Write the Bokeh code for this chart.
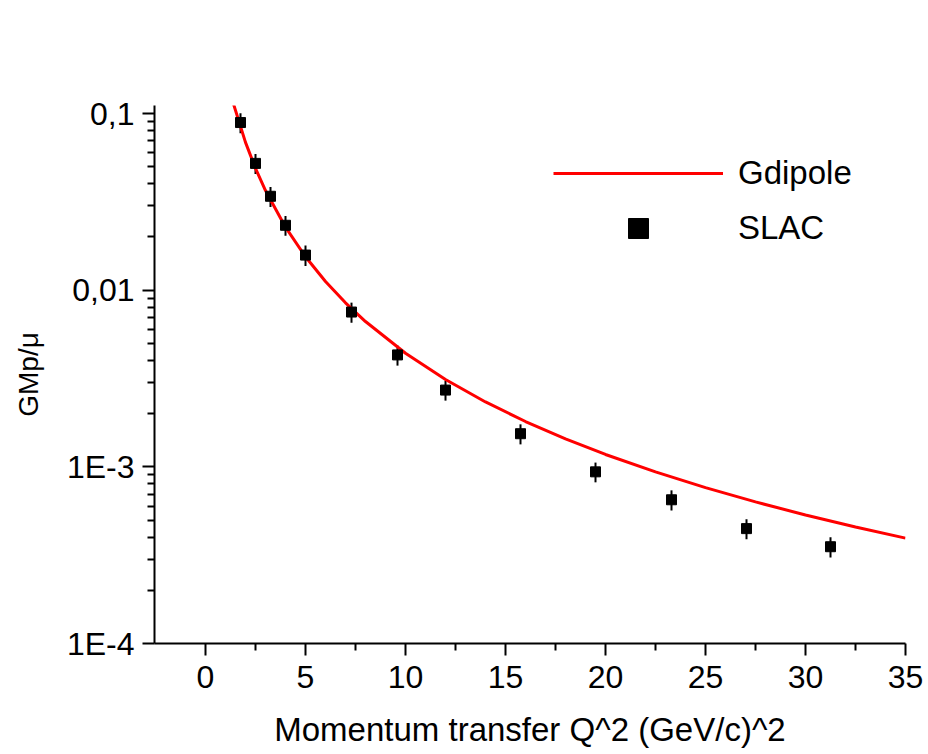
from bokeh.plotting import figure
from bokeh.models import (FixedTicker, CustomJSTickFormatter, Range1d, Legend, LegendItem,
                          ColumnDataSource)
from bokeh.embed import file_html
from bokeh.resources import INLINE

# ---- data ----
slac_q2 = [1.75, 2.5, 3.25, 4.0, 5.0, 7.3, 9.6, 12.0, 15.75, 19.5, 23.3, 27.05, 31.25]
slac_gm = [0.0889, 0.0522, 0.0340, 0.0233, 0.0158, 0.00752, 0.00430, 0.00272,
           0.00154, 0.000937, 0.000651, 0.000447, 0.000353]
slac_err = [0.0115, 0.0068, 0.0044, 0.0030, 0.0021, 0.00098, 0.00056, 0.00035,
            0.00020, 0.00012, 0.000085, 0.000058, 0.000046]

dip_q2 = [1.4, 2.0, 2.5, 3.0, 4.0, 5.0, 6.0, 7.0, 8.0, 10.0, 12.0, 14.0, 16.0, 18.0,
          20.0, 22.5, 25.0, 27.5, 30.0, 32.5, 35.0]
dip_g = [0.1132, 0.06864, 0.04892, 0.03662, 0.02272, 0.01546, 0.011196, 0.008480,
         0.006645, 0.004395, 0.003121, 0.002330, 0.001805, 0.001440, 0.001175,
         0.000936, 0.000763, 0.000633, 0.000534, 0.000457, 0.000395]

x_ticks = [0, 5, 10, 15, 20, 25, 30, 35]
x_minor = [2.5, 7.5, 12.5, 17.5, 22.5, 27.5, 32.5]
y_ticks = [1e-4, 1e-3, 1e-2, 1e-1]
y_tick_labels = ["1E-4", "1E-3", "0,01", "0,1"]

FONT = "Liberation Sans"

p = figure(width=928, height=754, y_axis_type="log", output_backend="svg",
           toolbar_location=None,
           x_range=Range1d(-2.55, 35), y_range=Range1d(1e-4, 0.111),
           min_border_left=154, min_border_right=23, min_border_top=105,
           min_border_bottom=111)
p.outline_line_color = None
p.xgrid.visible = False
p.ygrid.visible = False
p.background_fill_color = "white"
p.border_fill_color = "white"

# error bars
lower = [g - e for g, e in zip(slac_gm, slac_err)]
upper = [g + e for g, e in zip(slac_gm, slac_err)]
src = ColumnDataSource(dict(x=slac_q2, y=slac_gm, lo=lower, hi=upper))
p.segment(x0="x", y0="lo", x1="x", y1="hi", source=src, line_color="black", line_width=2)

line_r = p.line(dip_q2, dip_g, line_color="#ff0000", line_width=3)
sq_r = p.scatter("x", "y", source=src, marker="square", size=10,
                 fill_color="black", line_color="black")

# axes
yminor = []
for d in y_ticks[:-1]:
    for m in range(2, 10):
        yminor.append(m * d)

p.xaxis.ticker = FixedTicker(ticks=x_ticks, minor_ticks=x_minor)
p.yaxis.ticker = FixedTicker(ticks=y_ticks, minor_ticks=yminor)
p.yaxis.formatter = CustomJSTickFormatter(args=dict(vals=y_ticks, labs=y_tick_labels), code="""
    let best = 0, bd = 1e9;
    for (let i = 0; i < vals.length; i++) {
        const d = Math.abs(Math.log10(vals[i]) - Math.log10(tick));
        if (d < bd) { bd = d; best = i; }
    }
    return labs[best];
""")

for ax in (p.xaxis[0], p.yaxis[0]):
    ax.axis_line_width = 2
    ax.major_tick_line_width = 2
    ax.minor_tick_line_width = 2
    ax.major_tick_out = 12
    ax.major_tick_in = 0
    ax.minor_tick_out = 7
    ax.minor_tick_in = 0
    ax.major_label_text_font = FONT
    ax.major_label_text_font_size = "32px"
    ax.major_label_text_color = "black"
    ax.axis_label_text_font = FONT
    ax.axis_label_text_font_style = "normal"
    ax.axis_label_text_color = "black"
    ax.axis_line_color = "black"
    ax.major_tick_line_color = "black"
    ax.minor_tick_line_color = "black"

p.xaxis.axis_label = "Momentum transfer Q^2 (GeV/c)^2"
p.xaxis.axis_label_text_font_size = "33px"
p.xaxis.major_label_standoff = 10
p.xaxis.axis_label_standoff = 20

p.yaxis.axis_label = "GMp/μ"
p.yaxis.axis_label_text_font_size = "28px"
p.yaxis.major_label_standoff = 8
p.yaxis.axis_label_standoff = 20

legend = Legend(items=[LegendItem(label="Gdipole", renderers=[line_r]),
                       LegendItem(label="SLAC", renderers=[sq_r])],
                location=(399, 390), orientation="vertical",
                glyph_width=170, glyph_height=50, label_standoff=15,
                spacing=5, padding=0, margin=0,
                border_line_color=None, background_fill_alpha=0,
                label_text_font=FONT, label_text_font_size="33px",
                label_text_color="black")
p.add_layout(legend)

open("out.html", "w").write(file_html(p, INLINE))
